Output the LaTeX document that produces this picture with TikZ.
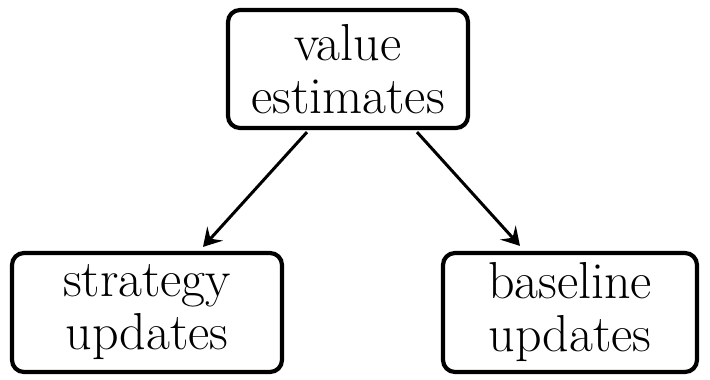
\documentclass[tikz,border=0pt]{standalone}
\usetikzlibrary{arrows.meta}
\begin{document}
\begin{tikzpicture}[x=1pt,y=-1pt,
  box/.style={draw,line width=4.2pt,rounded corners=12pt,align=center,
    font=\fontsize{52}{53}\selectfont,inner sep=0pt},
  conn/.style={line width=3pt,-{Stealth[length=18pt,width=21pt,inset=7pt]}}]
\useasboundingbox (0,0) rectangle (710,380);
\node[box,minimum width=240pt,minimum height=118pt] (top) at (348,69) {value\\estimates};
\node[box,minimum width=270pt,minimum height=119pt] (left) at (147,312.5) {strategy\\updates};
\node[box,minimum width=254pt,minimum height=119pt] (right) at (570,312.5) {baseline\\updates};
\draw[conn] ([xshift=-41pt,yshift=-2pt]top.south) -- ([xshift=56pt,yshift=4pt]left.north);
\draw[conn] ([xshift=69pt,yshift=-2pt]top.south) -- ([xshift=-50pt,yshift=5pt]right.north);
\end{tikzpicture}
\end{document}
